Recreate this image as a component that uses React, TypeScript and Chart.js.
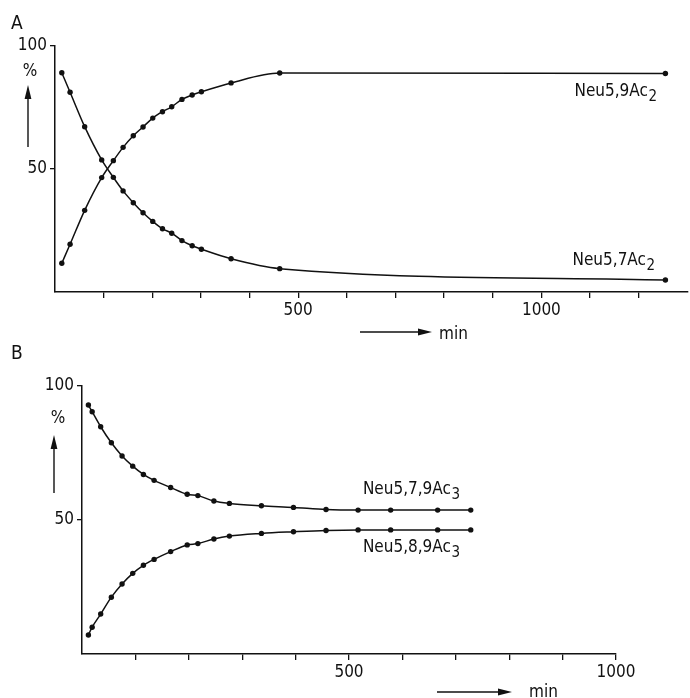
import React, { useEffect, useRef } from 'react';
import { Chart, registerables } from 'chart.js';

Chart.register(...registerables);

// Panel A: isomerisation of Neu5,7Ac2 into Neu5,9Ac2 (time in min, share in %)
const timeA = [14, 31, 61, 96, 120, 140, 161, 181, 201, 221, 240, 261, 282, 301, 362, 462, 1255];
const neu57Ac2 = [89.1, 81.2, 67.2, 53.7, 46.6, 41.1, 36.3, 32.2, 28.7, 25.7, 23.9, 20.9, 18.8, 17.4, 13.5, 9.5, 4.9];
const neu59Ac2 = [11.7, 19.4, 33.2, 46.5, 53.4, 58.8, 63.5, 67.1, 70.7, 73.3, 75.3, 78.3, 80.1, 81.4, 85.0, 89.0, 88.8];

// Panel B: equilibration of Neu5,7,9Ac3 and Neu5,8,9Ac3
const timeB = [12, 19, 35, 55, 75, 95, 115, 135, 166, 197, 217, 247, 276, 336, 396, 457, 517, 578, 666, 728];
const neu579Ac3 = [92.9, 90.4, 84.8, 78.8, 73.9, 70.1, 67.0, 64.8, 62.1, 59.6, 59.1, 57.1, 56.2, 55.3, 54.7, 53.9, 53.7, 53.7, 53.7, 53.7];
const neu589Ac3 = [7.1, 10.0, 14.9, 21.2, 26.1, 30.1, 33.1, 35.3, 38.2, 40.7, 41.2, 42.9, 44.0, 45.0, 45.6, 46.1, 46.3, 46.3, 46.3, 46.3];

const yTickLabels = [50, 100];
const xTickLabels = [500, 1000];
const xMaxA = 1300;
const xLastTickA = 1200;
const xMaxB = 1000;

const FONT = '"DejaVu Sans Condensed", "DejaVu Sans", sans-serif';
const INK = '#111111';
const TEXT_SIZE = 17;

type Note = { text: string; sub: string; x: number; y: number };

const notesA: Note[] = [
  { text: 'Neu5,9Ac', sub: '2', x: 1068, y: 82 },
  { text: 'Neu5,7Ac', sub: '2', x: 1064, y: 13.6 },
];
const notesB: Note[] = [
  { text: 'Neu5,7,9Ac', sub: '3', x: 526, y: 62 },
  { text: 'Neu5,8,9Ac', sub: '3', x: 526, y: 40.3 },
];

type Decor = {
  letter: string;
  letterY: number;
  percent: [number, number];
  upArrow: [number, number, number];
  minArrow: [number, number, number];
  minText: [number, number];
  notes: Note[];
};

function toPoints(t: number[], v: number[]) {
  return t.map((x, i) => ({ x, y: v[i] }));
}

function drawArrow(ctx: CanvasRenderingContext2D, x1: number, y1: number, x2: number, y2: number) {
  const ang = Math.atan2(y2 - y1, x2 - x1);
  const len = 14;
  const half = 3.4;
  const bx = x2 - len * Math.cos(ang);
  const by = y2 - len * Math.sin(ang);
  ctx.beginPath();
  ctx.moveTo(x1, y1);
  ctx.lineTo(bx, by);
  ctx.lineWidth = 1.4;
  ctx.strokeStyle = INK;
  ctx.stroke();
  ctx.beginPath();
  ctx.moveTo(x2, y2);
  ctx.lineTo(bx + half * Math.sin(ang), by - half * Math.cos(ang));
  ctx.lineTo(bx - half * Math.sin(ang), by + half * Math.cos(ang));
  ctx.closePath();
  ctx.fillStyle = INK;
  ctx.fill();
}

function drawText(ctx: CanvasRenderingContext2D, text: string, x: number, yMid: number, size: number, align: CanvasTextAlign = 'left') {
  ctx.font = `${size}px ${FONT}`;
  ctx.fillStyle = INK;
  ctx.textAlign = align;
  ctx.textBaseline = 'alphabetic';
  ctx.fillText(text, x, yMid + 0.36 * size);
  return ctx.measureText(text).width;
}

function decorPlugin(decor: Decor) {
  return {
    id: 'decor',
    afterDraw(chart: any) {
      const ctx: CanvasRenderingContext2D = chart.ctx;
      const xs = chart.scales.x;
      const ys = chart.scales.y;
      ctx.save();
      drawText(ctx, decor.letter, 11, decor.letterY, 19);
      drawText(ctx, '%', decor.percent[0], decor.percent[1], TEXT_SIZE, 'center');
      const [ax, ay1, ay2] = decor.upArrow;
      drawArrow(ctx, ax, ay1, ax, ay2);
      const [mx1, mx2, my] = decor.minArrow;
      drawArrow(ctx, mx1, my, mx2, my);
      drawText(ctx, 'min', decor.minText[0], decor.minText[1], TEXT_SIZE);
      for (const n of decor.notes) {
        const px = xs.getPixelForValue(n.x);
        const py = ys.getPixelForValue(n.y);
        const w = drawText(ctx, n.text, px, py, TEXT_SIZE);
        ctx.font = `${TEXT_SIZE - 2}px ${FONT}`;
        ctx.textAlign = 'left';
        ctx.fillText(n.sub, px + w + 0.5, py + 0.36 * TEXT_SIZE + 5);
      }
      ctx.restore();
    },
  };
}

function lineSet(points: { x: number; y: number }[]) {
  return {
    data: points,
    borderColor: INK,
    backgroundColor: INK,
    borderWidth: 1.5,
    pointRadius: 2.7,
    pointHoverRadius: 2.7,
    pointBorderWidth: 0,
    cubicInterpolationMode: 'monotone' as const,
    fill: false,
  };
}

function axisFont() {
  return { family: FONT, size: TEXT_SIZE };
}

function buildConfig(opts: {
  sets: { x: number; y: number }[][];
  xMax: number;
  xLast: number;
  padTop: number;
  padRight: number;
  yAxisWidth: number;
  xAxisHeight: number;
  decor: Decor;
}) {
  return {
    type: 'line' as const,
    data: { datasets: opts.sets.map(lineSet) },
    options: {
      animation: false as const,
      responsive: false,
      events: [] as any[],
      layout: { padding: { top: opts.padTop, right: opts.padRight, left: 0, bottom: 0 } },
      plugins: { legend: { display: false }, tooltip: { enabled: false } },
      scales: {
        x: {
          type: 'linear' as const,
          min: 0,
          max: opts.xMax,
          afterBuildTicks: (s: any) => {
            s.ticks = s.ticks.filter((t: any) => t.value > 0 && t.value <= opts.xLast && t.value % 100 === 0);
          },
          afterFit: (s: any) => {
            s.height = opts.xAxisHeight;
          },
          ticks: {
            stepSize: 100,
            autoSkip: false,
            maxRotation: 0,
            padding: 2,
            color: INK,
            font: axisFont(),
            callback: (v: any) => (xTickLabels.includes(Number(v)) ? String(v) : ''),
          },
          grid: { drawOnChartArea: false, drawTicks: true, tickLength: 6, color: INK, lineWidth: 1.3 },
          border: { display: true, color: INK, width: 1.5 },
        },
        y: {
          type: 'linear' as const,
          min: 0,
          max: 100,
          afterBuildTicks: (s: any) => {
            s.ticks = s.ticks.filter((t: any) => yTickLabels.includes(t.value));
          },
          afterFit: (s: any) => {
            s.width = opts.yAxisWidth;
          },
          ticks: {
            stepSize: 50,
            padding: 3,
            color: INK,
            font: axisFont(),
            callback: (v: any) => String(v),
          },
          grid: { drawOnChartArea: false, drawTicks: true, tickLength: 5, color: INK, lineWidth: 1.3 },
          border: { display: true, color: INK, width: 1.5 },
        },
      },
    },
    plugins: [decorPlugin(opts.decor)],
  };
}

const W = 690;
const A_TOP = 0;
const A_H = 345;
const B_TOP = 335;
const B_H = 363;

export default function App() {
  const refA = useRef<HTMLCanvasElement>(null);
  const refB = useRef<HTMLCanvasElement>(null);

  useEffect(() => {
    const chartA = new Chart(
      refA.current as HTMLCanvasElement,
      buildConfig({
        sets: [toPoints(timeA, neu57Ac2), toPoints(timeA, neu59Ac2)],
        xMax: xMaxA,
        xLast: xLastTickA,
        padTop: 46,
        padRight: 0,
        yAxisWidth: 55,
        xAxisHeight: 53,
        decor: {
          letter: 'A',
          letterY: 22,
          percent: [30, 70],
          upArrow: [28, 147, 85],
          minArrow: [360, 432, 332],
          minText: [439, 333],
          notes: notesA,
        },
      }) as any
    );
    const chartB = new Chart(
      refB.current as HTMLCanvasElement,
      buildConfig({
        sets: [toPoints(timeB, neu579Ac3), toPoints(timeB, neu589Ac3)],
        xMax: xMaxB,
        xLast: xMaxB,
        padTop: 51,
        padRight: 74,
        yAxisWidth: 82,
        xAxisHeight: 44,
        decor: {
          letter: 'B',
          letterY: 17,
          percent: [58, 82],
          upArrow: [54, 158, 100],
          minArrow: [437, 512, 357],
          minText: [529, 356],
          notes: notesB,
        },
      }) as any
    );
    return () => {
      chartA.destroy();
      chartB.destroy();
    };
  }, []);

  return (
    <div style={{ position: 'absolute', left: 0, top: 0, width: W, height: 698, background: '#fff', overflow: 'hidden' }}>
      <canvas
        ref={refA}
        width={W}
        height={A_H}
        style={{ position: 'absolute', left: 0, top: A_TOP, width: W, height: A_H }}
      />
      <canvas
        ref={refB}
        width={W}
        height={B_H}
        style={{ position: 'absolute', left: 0, top: B_TOP, width: W, height: B_H }}
      />
    </div>
  );
}
